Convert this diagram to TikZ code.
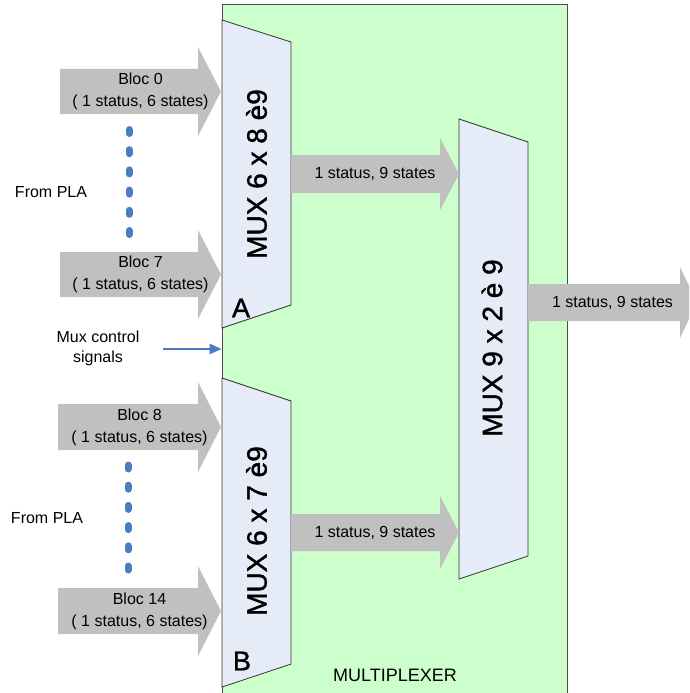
\documentclass[tikz,border=0pt]{standalone}
\usepackage{fontspec}
\setmainfont{Liberation Sans}
\newfontfamily\muxfont[FakeBold=1.3]{Liberation Sans}
\usetikzlibrary{arrows.meta}
\definecolor{plagreen}{HTML}{CCFFCC}
\definecolor{muxfill}{HTML}{E6ECF7}
\definecolor{arrowgray}{HTML}{C0C0C0}
\definecolor{ctlblue}{HTML}{4A7CC4}

% block arrow: name, x start, head start, tip x, y centre, half shaft, half head, text
\newcommand{\blockarrow}[8]{%
  \fill[arrowgray] (#2,#5-#6) -- (#3,#5-#6) -- (#3,#5-#7) -- (#4,#5)
    -- (#3,#5+#7) -- (#3,#5+#6) -- (#2,#5+#6) -- cycle;
  \node[lbl] (#1) at ({(#2+#4)/2},#5) {#8};}

\begin{document}
\begin{tikzpicture}[x=1pt,y=-1pt,
  lbl/.style={font=\fontsize{16}{22}\selectfont, align=center, inner sep=0pt},
  muxlbl/.style={font=\muxfont\fontsize{28}{30}\selectfont, rotate=90, inner sep=0pt},
  muxbox/.style={fill=muxfill, draw=black!80, line width=0.8pt},
  dots/.style={ctlblue, line width=7pt, line cap=round, dash pattern=on 4pt off 16.2pt}]
  \useasboundingbox (0,0) rectangle (689,693);
  \clip (0,0) rectangle (689,693);

  \node[fill=plagreen, draw=black!70, line width=0.8pt, minimum width=345pt,
        minimum height=696pt, inner sep=0pt] (plablock) at (394.5,352) {};

  % inputs of mux A and mux B
  \blockarrow{bloc0}{60}{198}{221}{91.5}{22.5}{44.5}{Bloc 0\\( 1 status, 6 states)}
  \blockarrow{bloc7}{60}{198}{221}{274.5}{22.5}{44.5}{Bloc 7\\( 1 status, 6 states)}
  \blockarrow{bloc8}{58}{198}{221}{427}{23}{45}{Bloc 8\\( 1 status, 6 states)}
  \blockarrow{bloc14}{58}{198}{221}{611}{23}{45}{Bloc 14\\( 1 status, 6 states)}

  % the three muxes
  \filldraw[muxbox] (222,20) -- (291,42) -- (291,305) -- (222,328) -- cycle;
  \filldraw[muxbox] (222,378) -- (291,401) -- (291,664) -- (222,687) -- cycle;
  \filldraw[muxbox] (459,119) -- (528,142) -- (528,556) -- (459,579) -- cycle;
  \node[muxlbl] (muxA) at (256.5,174) {MUX 6 x 8 è9};
  \node[muxlbl] (muxB) at (256.5,531) {MUX 6 x 7 è9};
  \node[muxlbl] (muxC) at (492,348) {MUX 9 x 2 è 9};
  \node[font=\muxfont\fontsize{27}{27}\selectfont, inner sep=0pt] (tagA) at (241,308) {A};
  \node[font=\muxfont\fontsize{27}{27}\selectfont, inner sep=0pt] (tagB) at (242,661) {B};

  \blockarrow{midA}{291}{440}{459}{174}{19}{36}{1 status, 9 states}
  \blockarrow{midB}{291}{440}{459}{532.5}{18.5}{36.5}{1 status, 9 states}
  \blockarrow{outC}{528}{680}{697}{302.5}{18.5}{35.5}{1 status, 9 states}

  \draw[dots] (129,129.5) -- (129,234.5);
  \draw[dots] (128,465) -- (128,570);
  \node[lbl] (plaA) at (51,192) {From PLA};
  \node[lbl] (plaB) at (47,518) {From PLA};

  \node[lbl, font=\fontsize{16}{19.5}\selectfont] (ctl) at (98,348.5) {Mux control\\signals};
  \coordinate (ctlstart) at (163,349);
  \draw[ctlblue, line width=2.6pt, -{Triangle[length=12pt,width=10pt]}]
    (ctlstart) -- (ctlstart -| plablock.west);

  \node[font=\fontsize{18}{18}\selectfont, inner sep=0pt] (title) at (395,675) {MULTIPLEXER};
\end{tikzpicture}
\end{document}
